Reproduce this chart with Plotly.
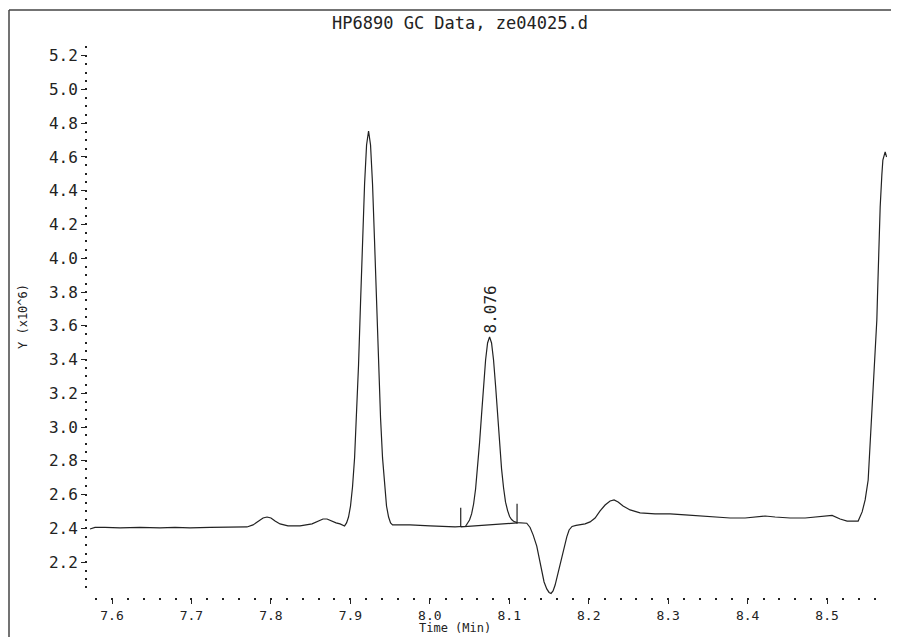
import numpy as np
import plotly.graph_objects as go

# ---------------- data ----------------
time_min = [
    7.5723, 7.5786, 7.5912, 7.6101, 7.6352, 7.6604, 7.6793, 7.6982, 7.7234, 7.7485,
    7.7699, 7.7775, 7.7838, 7.7901, 7.7951, 7.8001, 7.8052, 7.8115, 7.8215, 7.8367,
    7.8518, 7.8593, 7.8656, 7.8706, 7.8757, 7.8820, 7.8870,
    7.8927, 7.8952, 7.8977, 7.9002, 7.9027, 7.9053, 7.9078, 7.9103, 7.9128, 7.9153,
    7.9179, 7.9204, 7.9229, 7.9254, 7.9279, 7.9304, 7.9330, 7.9355, 7.9380, 7.9405,
    7.9430, 7.9455, 7.9481, 7.9506, 7.9531,
    7.9588, 7.9751, 8.0003, 8.0192, 8.0318,
    8.0450, 8.0475, 8.0500, 8.0526, 8.0551, 8.0576, 8.0601, 8.0626, 8.0651, 8.0677,
    8.0702, 8.0727, 8.0752, 8.0777, 8.0802, 8.0828, 8.0853, 8.0878, 8.0903, 8.0928,
    8.0953, 8.0979, 8.1004, 8.1029, 8.1054, 8.1098, 8.1161, 8.1220,
    8.1262, 8.1300, 8.1346, 8.1375, 8.1409, 8.1438, 8.1472, 8.1501, 8.1526, 8.1551,
    8.1577, 8.1602, 8.1633, 8.1661, 8.1690, 8.1724, 8.1753, 8.1790, 8.1841, 8.1891,
    8.1954, 8.2017, 8.2080, 8.2143, 8.2206, 8.2269, 8.2319, 8.2370, 8.2432, 8.2521,
    8.2646, 8.2835, 8.3024, 8.3213, 8.3402, 8.3591, 8.3780, 8.3968, 8.4094, 8.4220,
    8.4346, 8.4535, 8.4724, 8.4849, 8.4975, 8.5063, 8.5164, 8.5252, 8.5353, 8.5391,
    8.5441, 8.5479, 8.5517, 8.5554, 8.5592, 8.5626, 8.5634, 8.5646, 8.5659, 8.5668,
    8.5689, 8.5702, 8.5731, 8.5749,
]
signal_e6 = [
    2.396, 2.405, 2.405, 2.402, 2.405, 2.402, 2.405, 2.402, 2.405, 2.405,
    2.408, 2.420, 2.443, 2.461, 2.467, 2.461, 2.443, 2.426, 2.414, 2.414,
    2.426, 2.443, 2.455, 2.455, 2.443, 2.432, 2.426,
    2.414, 2.432, 2.467, 2.532, 2.645, 2.817, 3.054, 3.368, 3.735, 4.108,
    4.440, 4.671, 4.754, 4.671, 4.440, 4.108, 3.735, 3.368, 3.054, 2.817,
    2.645, 2.532, 2.467, 2.432, 2.420,
    2.420, 2.420, 2.414, 2.408, 2.408,
    2.412, 2.432, 2.449, 2.485, 2.544, 2.633, 2.752, 2.906, 3.072, 3.243,
    3.397, 3.498, 3.534, 3.498, 3.397, 3.243, 3.072, 2.906, 2.752, 2.640,
    2.555, 2.505, 2.470, 2.452, 2.442, 2.434, 2.434, 2.430,
    2.405, 2.361, 2.295, 2.224, 2.141, 2.082, 2.041, 2.020, 2.014, 2.029,
    2.064, 2.112, 2.177, 2.230, 2.289, 2.349, 2.390, 2.411, 2.417, 2.420,
    2.426, 2.438, 2.461, 2.503, 2.538, 2.562, 2.568, 2.556, 2.532, 2.509,
    2.491, 2.485, 2.485, 2.479, 2.473, 2.467, 2.461, 2.461, 2.467, 2.473,
    2.467, 2.461, 2.461, 2.467, 2.473, 2.476, 2.455, 2.443, 2.443, 2.443,
    2.497, 2.568, 2.686, 2.983, 3.308, 3.634, 3.771, 3.972, 4.167, 4.304,
    4.493, 4.582, 4.630, 4.600,
]

# integrated peak (retention time label and baseline)
peak_rt = 8.076
peak_top = 3.534
integ_start = [8.0389, 2.409]
integ_end = [8.1098, 2.432]
integ_tick = 0.113

x_major = [7.6, 7.7, 7.8, 7.9, 8.0, 8.1, 8.2, 8.3, 8.4, 8.5]
x_labels = ["7.6", "7.7", "7.8", "7.9", "8.0", "8.1", "8.2", "8.3", "8.4", "8.5"]
y_major = [2.2, 2.4, 2.6, 2.8, 3.0, 3.2, 3.4, 3.6, 3.8, 4.0, 4.2, 4.4, 4.6, 4.8, 5.0, 5.2]
y_labels = ["%.1f" % v for v in y_major]

title_text = "HP6890 GC Data, ze04025.d"
x_title = "Time (Min)"
y_title = "Y (x10^6)"

# ---------------- figure ----------------
FONT = "DejaVu Sans Mono"
INK = "#222222"

x_minor = [round(v, 2) for v in np.arange(7.58, 8.57, 0.02)]
y_minor = [round(v, 2) for v in np.arange(2.05, 5.26, 0.05)]

# page has an 8px body margin; figure sized so the page is exactly 899x637
OFF = 8
W, H = 899 - OFF, 637 - OFF
PL, PR, PT, PB = 88, 887, 46, 597          # plot area in page pixels
L, R, T, B = PL - OFF, W - (PR - OFF), PT - OFF, H - (PB - OFF)

plot_w = PR - PL
plot_h = PB - PT


def px(xp):
    return (xp - PL) / plot_w


def py(yp):
    return (PB - yp) / plot_h


fig = go.Figure()
fig.add_trace(go.Scatter(x=time_min, y=signal_e6, mode="lines",
                         line=dict(color=INK, width=1.2), hoverinfo="skip"))

# integration baseline with start/stop ticks
bx = [integ_start[0], integ_start[0], None, integ_start[0], integ_end[0], None, integ_end[0], integ_end[0]]
by = [integ_start[1], integ_start[1] + integ_tick, None, integ_start[1], integ_end[1], None,
      integ_end[1] - 0.005, integ_end[1] + integ_tick]
fig.add_trace(go.Scatter(x=bx, y=by, mode="lines", line=dict(color=INK, width=1.2),
                         hoverinfo="skip"))

fig.add_annotation(x=peak_rt, y=peak_top + 0.01, xref="x", yref="y", text="8.076",
                   textangle=-90, showarrow=False, xanchor="center", yanchor="bottom",
                   font=dict(family=FONT, size=16, color=INK))

fig.add_annotation(x=px(460), y=py(23), xref="paper", yref="paper", text=title_text,
                   showarrow=False, xanchor="center", yanchor="middle",
                   font=dict(family=FONT, size=17, color=INK))
fig.add_annotation(x=px(455), y=py(637), xref="paper", yref="paper", text=x_title,
                   showarrow=False, xanchor="center", yanchor="bottom",
                   font=dict(family=FONT, size=12, color=INK))
fig.add_annotation(x=px(23), y=py(317), xref="paper", yref="paper", text=y_title,
                   textangle=-90, showarrow=False, xanchor="center", yanchor="middle",
                   font=dict(family=FONT, size=12, color=INK))

# outer frame (top and left edges visible)
fig.add_shape(type="line", xref="paper", yref="paper", x0=px(9), x1=px(905), y0=py(10), y1=py(10),
              line=dict(color="#444444", width=1.5))
fig.add_shape(type="line", xref="paper", yref="paper", x0=px(9), x1=px(9), y0=py(10), y1=py(645),
              line=dict(color="#444444", width=1.5))

fig.update_layout(
    width=W, height=H,
    margin=dict(l=L, r=R, t=T, b=B),
    paper_bgcolor="white", plot_bgcolor="white",
    showlegend=False,
    xaxis=dict(range=[7.5698, 8.5754], showgrid=False, zeroline=False, showline=False,
               tickmode="array", tickvals=x_major, ticktext=x_labels,
               ticks="outside", ticklen=6, tickwidth=1, tickcolor=INK,
               tickfont=dict(family=FONT, size=13, color=INK),
               minor=dict(tickmode="array", tickvals=x_minor, ticks="outside",
                          ticklen=2, tickwidth=1.5, tickcolor=INK, showgrid=False)),
    yaxis=dict(range=[1.993, 5.2575], showgrid=False, zeroline=False, showline=False,
               tickmode="array", tickvals=y_major, ticktext=y_labels,
               ticks="outside", ticklen=6, tickwidth=1, tickcolor=INK,
               tickfont=dict(family=FONT, size=16, color=INK),
               minor=dict(tickmode="array", tickvals=y_minor, ticks="outside",
                          ticklen=2, tickwidth=1.5, tickcolor=INK, showgrid=False)),
)

fig.write_html("out.html")
